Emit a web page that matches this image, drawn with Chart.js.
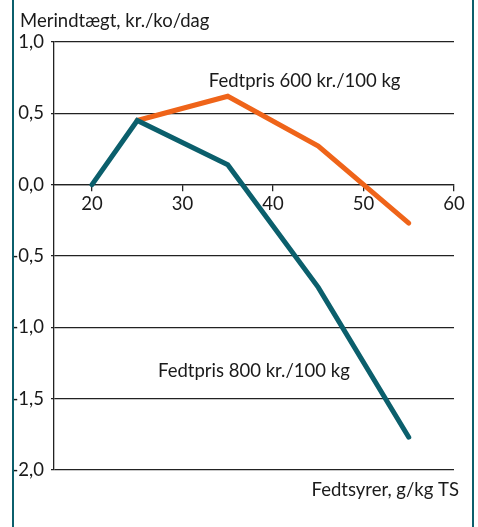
<!DOCTYPE html>
<html>
<head>
<meta charset="utf-8">
<script src="https://cdn.jsdelivr.net/npm/chart.js@4/dist/chart.umd.min.js"></script>
<style>
  html, body { margin: 0; padding: 0; background: #fff; }
  #wrap { position: relative; width: 478px; height: 527px; }
  #wrap::before, #wrap::after {
    content: ""; position: absolute; top: 0; bottom: 0; width: 2px; background: #0b5f6c;
  }
  #wrap::before { left: 12px; }
  #wrap::after { left: 472px; }
</style>
</head>
<body>
<div id="wrap"><canvas id="chart" width="478" height="527"></canvas></div>
<script>
// data
const fedtsyrer800 = [20, 25, 35, 45, 55];
const merindtaegt800 = [0, 0.45, 0.14, -0.72, -1.77];
const fedtsyrer600 = [25, 35, 45, 55];
const merindtaegt600 = [0.45, 0.62, 0.27, -0.27];
const xTicks = [20, 30, 40, 50, 60];

const yTitle = 'Merindtægt, kr./ko/dag';
const xTitle = 'Fedtsyrer, g/kg TS';
const label600 = 'Fedtpris 600 kr./100 kg';
const label800 = 'Fedtpris 800 kr./100 kg';

const FONT = 'Lato, "Open Sans", sans-serif';
const teal = '#0b5f6c';
const orange = '#ef6419';

function pairs(xs, ys) {
  return xs.map((x, i) => ({ x: x, y: ys[i] }));
}

// text labels placed on the plot
const tekster = {
  id: 'tekster',
  afterDatasetsDraw(chart) {
    const c = chart.ctx;
    const xs = chart.scales.x;
    c.save();
    c.fillStyle = '#1a1a1a';
    c.font = '18.5px ' + FONT;
    c.textBaseline = 'alphabetic';
    c.textAlign = 'left';
    c.fillText(yTitle, 20, 27);
    c.fillText(label600, xs.getPixelForValue(32.9), 87);
    c.fillText(label800, xs.getPixelForValue(27.3), 377);
    c.textAlign = 'right';
    c.fillText(xTitle, 459, 496);
    c.restore();
  }
};

new Chart(document.getElementById('chart'), {
  type: 'line',
  data: {
    datasets: [
      {
        label: label800,
        data: pairs(fedtsyrer800, merindtaegt800),
        borderColor: teal,
        borderWidth: 5,
        borderCapStyle: 'round',
        pointRadius: 0,
        tension: 0
      },
      {
        label: label600,
        data: pairs(fedtsyrer600, merindtaegt600),
        borderColor: orange,
        borderWidth: 5,
        borderCapStyle: 'round',
        pointRadius: 0,
        tension: 0
      }
    ]
  },
  options: {
    responsive: false,
    animation: false,
    layout: { padding: { top: 42, right: 24, bottom: 57, left: 0 } },
    plugins: { legend: { display: false }, tooltip: { enabled: false } },
    scales: {
      x: {
        type: 'linear',
        position: { y: 0 },
        min: 15.8,
        max: 60,
        afterBuildTicks: axis => { axis.ticks = xTicks.map(v => ({ value: v })); },
        grid: { drawOnChartArea: false, drawTicks: true, tickLength: 6, color: '#222', lineWidth: 1.3 },
        border: { display: true, color: '#222', width: 1.3 },
        ticks: { font: { family: FONT, size: 18.5 }, color: '#1a1a1a', padding: 2, maxRotation: 0 }
      },
      y: {
        min: -2,
        max: 1,
        afterFit: axis => { axis.width = 54; },
        grid: { color: '#222', lineWidth: 1.3, tickLength: 3 },
        border: { display: true, color: '#222', width: 1.3 },
        ticks: {
          stepSize: 0.5,
          padding: 7,
          font: { family: FONT, size: 18.5 },
          color: '#1a1a1a',
          callback: v => v.toFixed(1).replace('.', ',')
        }
      }
    }
  },
  plugins: [tekster]
});
</script>
</body>
</html>
